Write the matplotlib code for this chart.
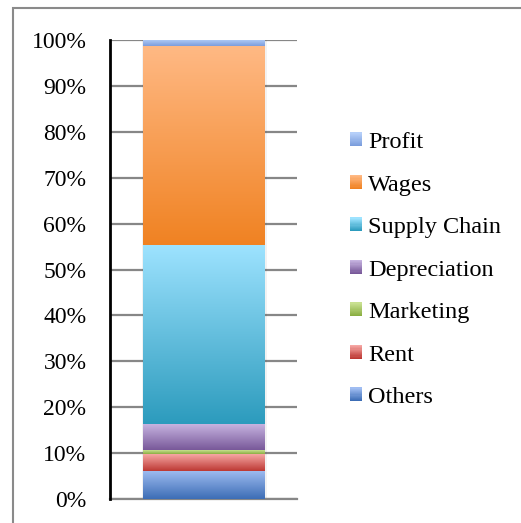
import numpy as np
import matplotlib
matplotlib.use("Agg")
import matplotlib.pyplot as plt
from matplotlib.patches import Rectangle, Patch
from matplotlib.colors import LinearSegmentedColormap
from matplotlib.legend_handler import HandlerBase

# data: share of total cost, stacked bottom -> top
categories = ["Others", "Rent", "Marketing", "Depreciation",
              "Supply Chain", "Wages", "Profit"]
shares = [6.2, 3.7, 0.8, 5.6, 39.1, 43.2, 1.4]
tick_values = [0, 10, 20, 30, 40, 50, 60, 70, 80, 90, 100]
tick_labels = [f"{t}%" for t in tick_values]

# gradient colours, (top, bottom)
grad_colors = {
    "Others": ("#a0bdf2", "#3c6db5"),
    "Rent": ("#f6a7a4", "#bd3833"),
    "Marketing": ("#c8e090", "#8aae42"),
    "Depreciation": ("#c6b3e0", "#785899"),
    "Supply Chain": ("#9ee3ff", "#2c9bbd"),
    "Wages": ("#ffb984", "#f08222"),
    "Profit": ("#b5cff9", "#7b9ddc"),
}


class GradientHandler(HandlerBase):
    # legend key drawn as a small vertical gradient
    def create_artists(self, legend, orig_handle, xdescent, ydescent,
                       width, height, fontsize, trans):
        top_c, bot_c = grad_colors[orig_handle.get_label()]
        cmap = LinearSegmentedColormap.from_list("k", [bot_c, top_c])
        n = 12
        out = []
        for i in range(n):
            r = Rectangle((-xdescent, -ydescent + i * height / n), width,
                          height / n + 0.3, facecolor=cmap(i / (n - 1)),
                          lw=0, transform=trans)
            out.append(r)
        return out


plt.rcParams["font.family"] = ["Liberation Serif", "DejaVu Serif"]

W, H = 521, 523
fig = plt.figure(figsize=(W / 100, H / 100), dpi=100, facecolor="white")
ax = fig.add_axes([110 / W, (H - 499) / H, 187 / W, 459 / H])

# outer chart border
fig.patches.append(Rectangle((13 / W, -0.1), 1.2, (H - 8) / H + 0.1,
                             transform=fig.transFigure, fill=False,
                             ec="#8a8a8a", lw=1.5))

bar_w = 0.65
bottoms = np.concatenate([[0], np.cumsum(shares)[:-1]])

# faint shadow behind the bar
ax.bar(0.006, sum(shares), width=bar_w + 0.02, color="#000000",
       alpha=0.05, zorder=2)

handles = []
for cat, val, bot in zip(categories, shares, bottoms):
    top_c, bot_c = grad_colors[cat]
    bars = ax.bar(0, val, bottom=bot, width=bar_w, color=bot_c, zorder=3,
                  lw=0)
    p = bars[0]
    cmap = LinearSegmentedColormap.from_list(cat, [bot_c, top_c])
    grad = np.linspace(0, 1, 256).reshape(-1, 1)
    ax.imshow(grad, cmap=cmap, origin="lower", aspect="auto",
              extent=[p.get_x(), p.get_x() + p.get_width(),
                      p.get_y(), p.get_y() + p.get_height()],
              zorder=4, interpolation="bilinear")
    handles.append(Patch(facecolor=top_c, label=cat))

ax.set_xlim(-0.5, 0.5)
ax.set_ylim(0, 100)
ax.set_yticks(tick_values)
ax.set_yticklabels(tick_labels, fontsize=17)
ax.set_xticks([])
ax.tick_params(axis="y", length=0, pad=17)

ax.yaxis.grid(True, color="#878787", lw=1.6, zorder=1)
ax.set_axisbelow(True)
for s in ["top", "right"]:
    ax.spines[s].set_visible(False)
ax.spines["left"].set_color("black")
ax.spines["left"].set_linewidth(2)
ax.spines["left"].set_zorder(5)
ax.spines["bottom"].set_color("#878787")
ax.spines["bottom"].set_linewidth(1.6)

fig.legend(handles=handles[::-1], loc="upper left",
           bbox_to_anchor=(350 / W, 1 - 132 / H), frameon=False,
           fontsize=17.5, labelspacing=0.885, handlelength=0.5,
           handleheight=0.5, handletextpad=0.25, borderpad=0,
           borderaxespad=0,
           handler_map={Patch: GradientHandler()})

fig.savefig("out.png", dpi=100, facecolor="white")
